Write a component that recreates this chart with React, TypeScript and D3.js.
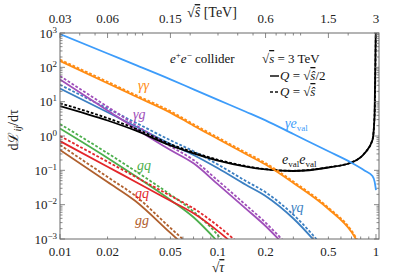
import React from 'react'
import * as d3 from 'd3'

// sqrt(tau) sample points shared by all curves
const sqrtTau = [0.01, 0.02, 0.03, 0.05, 0.07, 0.1, 0.15, 0.2, 0.3, 0.5, 0.7, 0.85, 0.95, 0.98, 1.0]

// luminosities (solid: Q = sqrt(s)/2, dashed: Q = sqrt(s))
const gammaEval = [935, 253, 118, 44.8, 22.9, 11.3, 5.1, 2.86, 1.14, 0.358, 0.166, 0.0975, 0.068, 0.047, 0.0267]
const gammaGammaSolid = [153, 34.5, 14.4, 4.8, 2.0, 0.82, 0.3, 0.147, 0.0427, 0.00747, 0.0016, 0.00034]
const gammaGammaDashed = [168, 38, 15.8, 5.3, 2.2, 0.9, 0.33, 0.162, 0.047, 0.0082, 0.00176, 0.00037]
const gammaGSolid = [44.2, 5.56, 1.66, 0.39, 0.16, 0.039, 0.0077, 0.00239, 0.00034]
const gammaGDashed = [56, 7.1, 2.1, 0.5, 0.2, 0.05, 0.0098, 0.003, 0.00043]
const gammaQSolid = [24.2, 4.9, 1.93, 0.585, 0.281, 0.115, 0.038, 0.0179, 0.00395, 0.0003]
const gammaQDashed = [31, 6.3, 2.47, 0.75, 0.36, 0.147, 0.049, 0.023, 0.0051, 0.00039]
const evalEvalSolid = [7.48, 2.83, 1.45, 0.528, 0.313, 0.193, 0.129, 0.106, 0.0955, 0.121, 0.169, 0.32, 0.76, 4.1, 3000]
const evalEvalDashed = [9.0, 3.3, 1.65, 0.58, 0.335, 0.203, 0.133, 0.108, 0.097, 0.123, 0.171, 0.325, 0.77, 4.2, 3000]
const gqSolid = [1.65, 0.229, 0.068, 0.0137, 0.0043, 0.00082]
const gqDashed = [2.23, 0.316, 0.095, 0.0196, 0.0063, 0.00127, 0.00008]
const qqSolid = [0.71, 0.127, 0.0466, 0.013, 0.0056, 0.0017, 0.00034]
const qqDashed = [1.0, 0.178, 0.065, 0.0182, 0.0078, 0.0024, 0.00048]
const ggSolid = [0.39, 0.0457, 0.0128, 0.0015, 0.00037]
const ggDashed = [0.55, 0.064, 0.018, 0.0021, 0.00052]

const bottomTicks = [0.01, 0.02, 0.05, 0.1, 0.2, 0.5, 1]
const bottomTickLabels = ['0.01', '0.02', '0.05', '0.1', '0.2', '0.5', '1']
const topTicks = [0.03, 0.06, 0.15, 0.6, 1.5, 3] // sqrt(s-hat) in TeV
const topTickLabels = ['0.03', '0.06', '0.15', '0.6', '1.5', '3']
const yExponents = [-3, -2, -1, 0, 1, 2, 3]
const sqrtS = 3 // TeV

const C = {
  gammaEval: '#3d9cfa',
  gammaGamma: '#ff8c14',
  gammaG: '#a04fba',
  gammaQ: '#3b7fc2',
  evalEval: '#000000',
  gq: '#4caf4c',
  qq: '#e3262a',
  gg: '#b0602e'
}

const font = "'Liberation Serif', 'DejaVu Serif', serif"
const frame = '#6b6b6b'

const series = [
  { ys: gqSolid, color: C.gq, dashed: false },
  { ys: gqDashed, color: C.gq, dashed: true },
  { ys: qqSolid, color: C.qq, dashed: false },
  { ys: qqDashed, color: C.qq, dashed: true },
  { ys: ggSolid, color: C.gg, dashed: false },
  { ys: ggDashed, color: C.gg, dashed: true },
  { ys: gammaQSolid, color: C.gammaQ, dashed: false },
  { ys: gammaQDashed, color: C.gammaQ, dashed: true },
  { ys: gammaGSolid, color: C.gammaG, dashed: false },
  { ys: gammaGDashed, color: C.gammaG, dashed: true },
  { ys: evalEvalSolid, color: C.evalEval, dashed: false },
  { ys: evalEvalDashed, color: C.evalEval, dashed: true },
  { ys: gammaGammaSolid, color: C.gammaGamma, dashed: false },
  { ys: gammaGammaDashed, color: C.gammaGamma, dashed: true },
  { ys: gammaEval, color: C.gammaEval, dashed: false }
]

export default function App() {
  const left = 60, right = 379, top = 33, bottom = 239

  const x = d3.scaleLog().domain([0.01, 1.045]).range([left, right])
  const y = d3.scaleLog().domain([1e-3, 1e3]).range([bottom, top])

  const line = d3.line<[number, number]>()
    .x(d => x(d[0]))
    .y(d => y(d[1]))
    .curve(d3.curveMonotoneX)

  // minor ticks
  const yMinor: number[] = []
  for (let e = -3; e < 3; e++) for (let m = 2; m <= 9; m++) yMinor.push(m * Math.pow(10, e))
  const xMinor: number[] = []
  for (let e = -2; e < 0; e++) for (let m = 2; m <= 9; m++) xMinor.push(m * Math.pow(10, e))

  return (
    <svg width={399} height={276} style={{ position: 'absolute', left: 0, top: 0, background: '#fff' }}
      fontFamily={font}>
      <defs>
        <clipPath id="plot">
          <rect x={left} y={top} width={right - left} height={bottom - top} />
        </clipPath>
      </defs>

      {/* curves */}
      <g clipPath="url(#plot)" fill="none">
        {series.map((s, i) => (
          <path key={i}
            d={line(s.ys.map((v, j) => [sqrtTau[j], v] as [number, number])) || ''}
            stroke={s.color}
            strokeWidth={1.8}
            strokeDasharray={s.dashed ? '2.8 1.8' : undefined} />
        ))}
      </g>

      {/* frame and ticks */}
      <rect x={left} y={top} width={right - left} height={bottom - top} fill="none" stroke={frame} strokeWidth={1} />
      <g stroke={frame} strokeWidth={0.8}>
        {yExponents.map(e => {
          const yy = y(Math.pow(10, e))
          return (
            <g key={'ym' + e}>
              <line x1={left} x2={left + 5} y1={yy} y2={yy} />
              <line x1={right} x2={right - 5} y1={yy} y2={yy} />
            </g>
          )
        })}
        {yMinor.map((v, i) => (
          <g key={'yn' + i}>
            <line x1={left} x2={left + 2.5} y1={y(v)} y2={y(v)} />
            <line x1={right} x2={right - 2.5} y1={y(v)} y2={y(v)} />
          </g>
        ))}
        {[0.01, 0.1, 1].map(v => (
          <line key={'xm' + v} x1={x(v)} x2={x(v)} y1={bottom} y2={bottom - 5} />
        ))}
        {xMinor.map((v, i) => (
          <line key={'xn' + i} x1={x(v)} x2={x(v)} y1={bottom} y2={bottom - 2.5} />
        ))}
        {topTicks.map(v => (
          <line key={'tm' + v} x1={x(v / sqrtS)} x2={x(v / sqrtS)} y1={top} y2={top + 5} />
        ))}
        {[0.04, 0.05, 0.07, 0.08, 0.09, 0.1, 0.2, 0.3, 0.4, 0.5, 0.7, 0.8, 0.9, 1, 2].map(v => (
          <line key={'tn' + v} x1={x(v / sqrtS)} x2={x(v / sqrtS)} y1={top} y2={top + 2.5} />
        ))}
      </g>

      {/* y tick labels */}
      <g fontSize={13} fill="#222">
        {yExponents.map(e => (
          <text key={'yl' + e} x={left - 3} y={y(Math.pow(10, e)) + 4.5} textAnchor="end">
            10<tspan fontSize={9} dy={-5}>{e < 0 ? '\u2212' + Math.abs(e) : String(e)}</tspan>
          </text>
        ))}
      </g>

      {/* bottom and top tick labels */}
      <g fontSize={13} fill="#222" textAnchor="middle">
        {bottomTicks.map((v, i) => (
          <text key={'bl' + v} x={x(v)} y={256}>{bottomTickLabels[i]}</text>
        ))}
        {topTicks.map((v, i) => (
          <text key={'tl' + v} x={x(v / sqrtS)} y={23}>{topTickLabels[i]}</text>
        ))}
      </g>

      {/* axis titles */}
      <text x={218} y={272} fontSize={14} textAnchor="middle" fill="#222">
        √<tspan style={{ textDecoration: 'overline' }} fontStyle="italic">τ</tspan>
      </text>
      <text x={187} y={17} fontSize={14} fill="#222">
        √<tspan style={{ textDecoration: 'overline' }} fontStyle="italic">ŝ</tspan> [TeV]
      </text>
      <text transform="translate(18,130) rotate(-90)" fontSize={14} textAnchor="middle" fill="#222">
        dℒ<tspan fontStyle="italic" fontSize={10} dy={3}>ij</tspan><tspan dy={-3}>/dτ</tspan>
      </text>

      {/* legend */}
      <g fontSize={13} fill="#111">
        <text x={170} y={63}>
          <tspan fontStyle="italic">e</tspan><tspan fontSize={9} dy={-5}>+</tspan>
          <tspan fontStyle="italic" dy={5}>e</tspan><tspan fontSize={9} dy={-5}>−</tspan>
          <tspan dy={5}> collider</tspan>
        </text>
        <text x={262} y={63}>
          √<tspan style={{ textDecoration: 'overline' }} fontStyle="italic">s</tspan> = 3 TeV
        </text>
        <line x1={270} x2={279} y1={76} y2={76} stroke="#111" strokeWidth={1.5} />
        <text x={280} y={80}>
          <tspan fontStyle="italic">Q</tspan> = √<tspan style={{ textDecoration: 'overline' }} fontStyle="italic">ŝ</tspan>/2
        </text>
        <line x1={270} x2={279} y1={92} y2={92} stroke="#111" strokeWidth={1.5} strokeDasharray="3 2" />
        <text x={280} y={96}>
          <tspan fontStyle="italic">Q</tspan> = √<tspan style={{ textDecoration: 'overline' }} fontStyle="italic">ŝ</tspan>
        </text>
      </g>

      {/* curve labels */}
      <g fontSize={14} fontStyle="italic">
        <text x={138} y={90} fill={C.gammaGamma}>γγ</text>
        <text x={133} y={119} fill={C.gammaG}>γg</text>
        <text x={285} y={128} fill={C.gammaEval}>γe<tspan fontStyle="normal" fontSize={9} dy={3}>val</tspan></text>
        <text x={282} y={164} fill="#111">e<tspan fontStyle="normal" fontSize={9} dy={3}>val</tspan><tspan dy={-3}>e</tspan><tspan fontStyle="normal" fontSize={9} dy={3}>val</tspan></text>
        <text x={291} y={212} fill={C.gammaQ}>γq</text>
        <text x={137} y={170} fill={C.gq}>gq</text>
        <text x={135} y={198} fill={C.qq}>qq</text>
        <text x={135} y={225} fill={C.gg}>gg</text>
      </g>
    </svg>
  )
}
